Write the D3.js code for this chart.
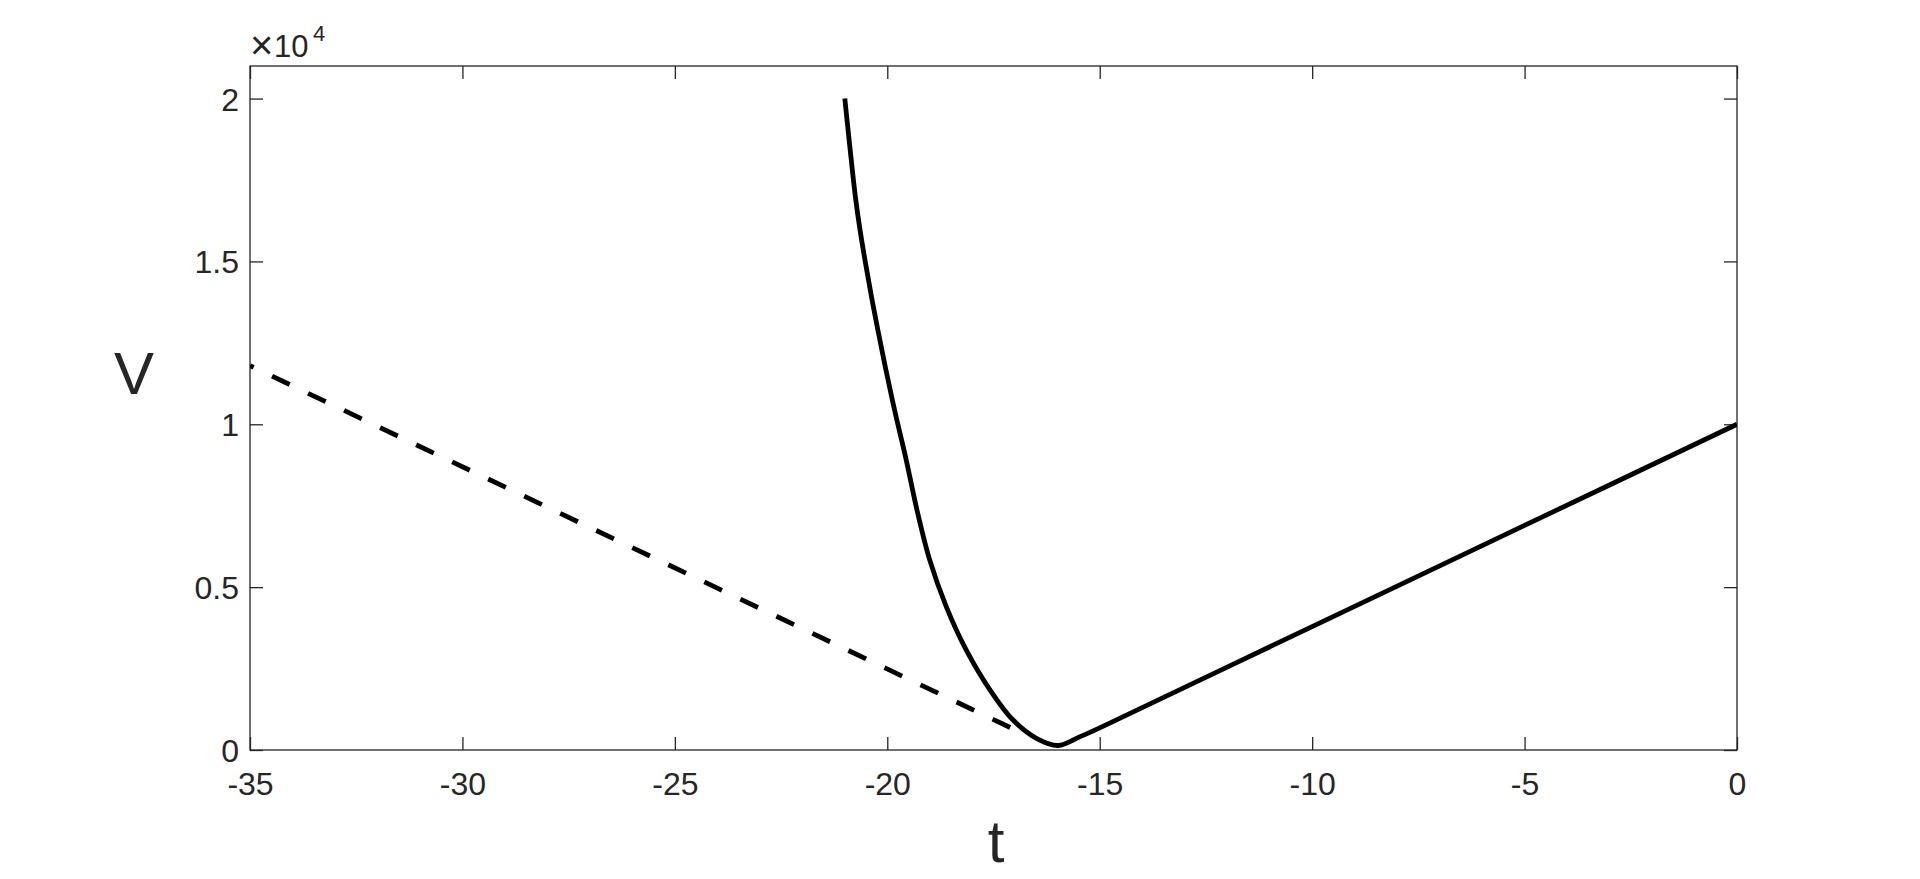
<!DOCTYPE html>
<html>
<head>
<meta charset="utf-8">
<script src="https://cdn.jsdelivr.net/npm/d3@7"></script>
<style>
  html, body { margin: 0; padding: 0; background: #fff; }
  svg { display: block; }
  text { font-family: "Liberation Sans", Arial, Helvetica, sans-serif; fill: #262626; }
</style>
</head>
<body>
<svg id="chart" width="1920" height="879"></svg>
<script>
// ---- data ----
const xTicks = [-35, -30, -25, -20, -15, -10, -5, 0];
const yTicks = [0, 5000, 10000, 15000, 20000];
const yTickLabels = ["0", "0.5", "1", "1.5", "2"];

// solid curve: t values and V values
const solidT = [-21.0, -20.88, -20.75, -20.64, -20.51, -20.37, -20.22, -20.03, -19.81, -19.57,
                -19.30, -19.0, -18.61, -18.14, -17.58, -17.04, -16.49, -15.98, -15.46, -15.0,
                -10.0, -5.0, 0];
const solidV = [20000, 18506, 16973, 15951, 14929, 13906, 12884, 11657, 10328, 8998,
                7362, 5828, 4397, 3068, 1841, 920, 359, 138, 410, 680,
                3790, 6895, 10000];

// dashed line: t values and V values
const dashT = [-35, -17.05];
const dashV = [11800, 655];

const xLabel = "t";
const yLabel = "V";

// ---- layout ----
const svg = d3.select("#chart");
const L = 250, R = 1737, T = 66, B = 750;
const ink = "#262626";

const x = d3.scaleLinear().domain([-35, 0]).range([L, R]);
const y = d3.scaleLinear().domain([0, 21000]).range([B, T]);

svg.append("rect").attr("width", 1920).attr("height", 879).attr("fill", "#fff");

svg.append("clipPath").attr("id", "clip")
  .append("rect").attr("x", L).attr("y", T).attr("width", R - L).attr("height", B - T);

const tickLen = 13;

// bottom axis
const gB = svg.append("g").attr("transform", `translate(0,${B})`)
  .call(d3.axisBottom(x).tickValues(xTicks).tickSize(-tickLen).tickFormat(d => String(d)));
gB.selectAll("text").attr("y", 45).attr("dy", 0).style("font-size", "32px").attr("fill", ink);

// top axis (ticks only)
const gT = svg.append("g").attr("transform", `translate(0,${T})`)
  .call(d3.axisTop(x).tickValues(xTicks).tickSize(-tickLen).tickFormat(""));

// left axis
const gL = svg.append("g").attr("transform", `translate(${L},0)`)
  .call(d3.axisLeft(y).tickValues(yTicks).tickSize(-tickLen)
    .tickFormat((d, i) => yTickLabels[i]));
gL.selectAll("text").attr("x", -11).attr("dy", "0.36em").style("font-size", "32px").attr("fill", ink);

// right axis (ticks only)
const gR = svg.append("g").attr("transform", `translate(${R},0)`)
  .call(d3.axisRight(y).tickValues(yTicks).tickSize(-tickLen).tickFormat(""));

[gB, gT, gL, gR].forEach(g => {
  g.select(".domain").remove();
  g.selectAll("line").attr("stroke", ink).attr("stroke-width", 1.3);
  g.attr("font-family", null).attr("font-size", null);
});

// box
svg.append("rect").attr("x", L).attr("y", T).attr("width", R - L).attr("height", B - T)
  .attr("fill", "none").attr("stroke", ink).attr("stroke-width", 1.3);

// exponent label
svg.append("text").attr("x", 250).attr("y", 59).style("font-size", "40px").text("\u00d7");
svg.append("text").attr("x", 274).attr("y", 57).style("font-size", "31px").text("10");
svg.append("text").attr("x", 313).attr("y", 41).style("font-size", "22px").text("4");

// axis labels
svg.append("text").attr("x", 134).attr("y", 394).attr("text-anchor", "middle")
  .style("font-size", "60px").text(yLabel);
svg.append("text").attr("x", 996).attr("y", 862).attr("text-anchor", "middle")
  .style("font-size", "60px").text(xLabel);

// lines
const plot = svg.append("g").attr("clip-path", "url(#clip)");

const dashData = dashT.map((t, i) => [t, dashV[i]]);
plot.append("path").datum(dashData)
  .attr("d", d3.line().x(d => x(d[0])).y(d => y(d[1])))
  .attr("fill", "none").attr("stroke", "#000").attr("stroke-width", 4.8)
  .attr("stroke-dasharray", "19.5,20.4").attr("stroke-dashoffset", 15.5);

const solidData = solidT.map((t, i) => [t, solidV[i]]);
plot.append("path").datum(solidData)
  .attr("d", d3.line().x(d => x(d[0])).y(d => y(d[1])).curve(d3.curveCatmullRom.alpha(0.5)))
  .attr("fill", "none").attr("stroke", "#000").attr("stroke-width", 4.8)
  .attr("stroke-linejoin", "round");
</script>
</body>
</html>
